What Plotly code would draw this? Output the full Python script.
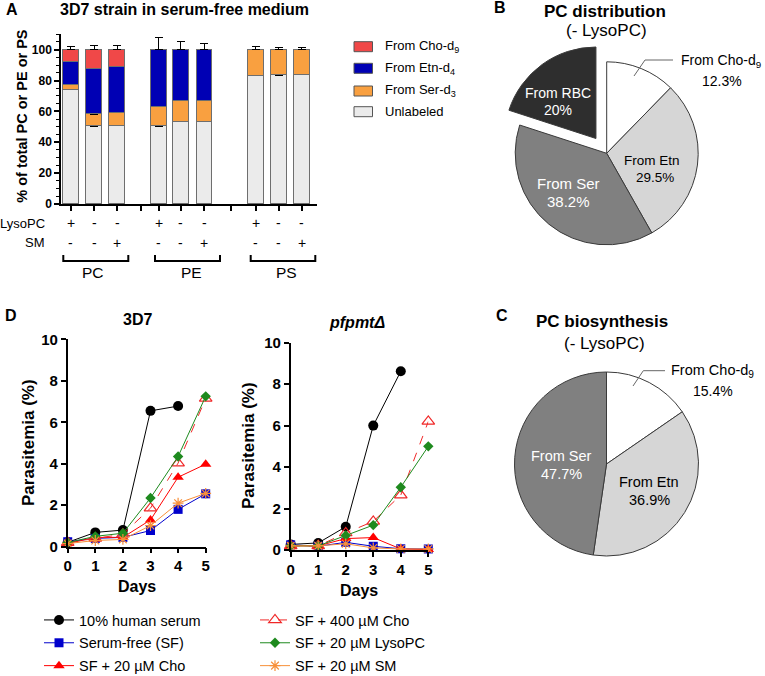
import plotly.graph_objects as go

W, H = 765, 676
def px(x): return x / W
def py(y): return 1 - y / H

FONT = "Liberation Sans, Arial, sans-serif"

# ---------------- Panel A data ----------------
bar_groups = ["PC", "PE", "PS"]
lyso_signs = ["+", "-", "-", "+", "-", "-", "+", "-", "-"]
sm_signs = ["-", "-", "+", "-", "-", "+", "-", "-", "+"]
unlabeled = [74.1, 50.4, 51.0, 50.4, 53.3, 53.3, 83.3, 83.6, 83.8]
from_ser = [3.3, 7.8, 8.0, 12.9, 13.6, 13.9, 16.7, 16.4, 16.2]
from_etn = [14.8, 29.3, 29.8, 36.7, 33.1, 32.8, None, None, None]
from_cho = [7.8, 12.5, 11.2, None, None, None, None, None, None]
err_unl = [1.5, 4.3, 4.4, 7.0, 6.0, 3.9, 2.0, 1.3, 1.5]
err_ser = [2.7, 1.0, 1.0, 1.0, 1.0, 1.0, 2.0, 1.2, 1.6]
err_etn = [2.6, 4.3, 2.8, 7.7, 5.6, 3.9, 0, 0, 0]
err_cho = [2.1, 2.5, 2.5, 0, 0, 0, 0, 0, 0]
seg_names = ["From Cho-d<sub>9</sub>", "From Etn-d<sub>4</sub>", "From Ser-d<sub>3</sub>", "Unlabeled"]
seg_colors = ["#F04848", "#0000B4", "#F9A040", "#EBEBEB"]

# ---------------- Panel B/C data ----------------
pieB_labels = ["From Cho-d9", "From Etn", "From Ser", "From RBC"]
pieB_values = [12.3, 29.5, 38.2, 20.0]
pieC_labels = ["From Cho-d9", "From Etn", "From Ser"]
pieC_values = [15.4, 36.9, 47.7]
pie_colors = ["#FFFFFF", "#D6D6D6", "#808080", "#2E2E2E"]

# ---------------- Panel D data ----------------
days = [0, 1, 2, 3, 4, 5]
conditions = ["10% human serum", "Serum-free (SF)", "SF + 20 µM Cho",
              "SF + 400 µM Cho", "SF + 20 µM LysoPC", "SF + 20 µM SM"]
p3d7 = {
    "10% human serum": [0.21, 0.69, 0.8, 6.55, 6.78, None],
    "Serum-free (SF)": [0.24, 0.4, 0.45, 0.78, 1.8, 2.55],
    "SF + 20 µM Cho": [0.15, 0.45, 0.45, 1.29, 3.35, 3.98],
    "SF + 400 µM Cho": [0.2, 0.4, 0.6, 1.86, 4.03, 7.15],
    "SF + 20 µM LysoPC": [0.2, 0.5, 0.65, 2.35, 4.35, 7.25],
    "SF + 20 µM SM": [0.15, 0.3, 0.35, 1.02, 2.1, 2.57],
}
ppfpmt = {
    "10% human serum": [0.27, 0.34, 1.12, 6.0, 8.62, None],
    "Serum-free (SF)": [0.25, 0.18, 0.37, 0.18, 0.06, 0.05],
    "SF + 20 µM Cho": [0.2, 0.2, 0.55, 0.6, 0.05, 0.02],
    "SF + 400 µM Cho": [0.2, 0.2, 0.82, 1.38, 2.65, 6.2],
    "SF + 20 µM LysoPC": [0.2, 0.2, 0.7, 1.2, 3.03, 5.0],
    "SF + 20 µM SM": [0.2, 0.2, 0.3, 0.1, 0.05, 0.05],
}
cond_style = {
    "10% human serum": dict(color="#000000", symbol="circle", size=10, dash="solid"),
    "Serum-free (SF)": dict(color="#0000CC", symbol="square", size=9, dash="solid"),
    "SF + 20 µM Cho": dict(color="#FF0000", symbol="triangle-up", size=10, dash="solid"),
    "SF + 400 µM Cho": dict(color="#F02828", symbol="triangle-up-open", size=11, dash="dash"),
    "SF + 20 µM LysoPC": dict(color="#1E8A1E", symbol="diamond", size=8, dash="solid"),
    "SF + 20 µM SM": dict(color="#F7903A", symbol="asterisk-open", size=9, dash="solid"),
}

# layout positions (not data)
bar_x = [0, 1, 2, 3.79, 4.74, 5.75, 7.96, 8.95, 9.94]
gap_ticks = [3.02, 6.9]

fig = go.Figure()

# ---------- Panel A bars ----------
stack = [("Unlabeled", unlabeled, err_unl, seg_colors[3]),
         ("Ser", from_ser, err_ser, seg_colors[2]),
         ("Etn", from_etn, err_etn, seg_colors[1]),
         ("Cho", from_cho, err_cho, seg_colors[0])]
for name, vals, err, col in stack:
    fig.add_trace(go.Bar(
        x=bar_x, y=vals, name=name, width=0.68, showlegend=False,
        marker=dict(color=col, line=dict(color="#6E6E6E", width=1)),
        error_y=dict(type="data", symmetric=False, array=err,
                     arrayminus=[0] * len(err), color="black", thickness=1, width=4),
        xaxis="x", yaxis="y", hoverinfo="skip"))

# ---------- Pies ----------
fig.add_trace(go.Pie(
    labels=pieB_labels, values=pieB_values, sort=False, direction="clockwise",
    rotation=0, pull=[0, 0, 0, 0.2], textinfo="none", hoverinfo="skip",
    marker=dict(colors=pie_colors, line=dict(color="#3A3A3A", width=1)),
    domain=dict(x=[px(606.7 - 109.8), px(606.7 + 109.8)],
                y=[py(153.3 + 109.8), py(153.3 - 109.8)]),
    showlegend=False))
fig.add_trace(go.Pie(
    labels=pieC_labels, values=pieC_values, sort=False, direction="clockwise",
    rotation=0, textinfo="none", hoverinfo="skip",
    marker=dict(colors=pie_colors[:3], line=dict(color="#3A3A3A", width=1)),
    domain=dict(x=[px(606.5 - 92), px(606.5 + 92)], y=[py(464 + 92), py(464 - 92)]),
    showlegend=False))

# ---------- Panel D lines ----------
for i, c in enumerate(conditions):
    st = cond_style[c]
    leg = "legend" if i < 3 else "legend2"
    mk = dict(color=st["color"], symbol=st["symbol"], size=st["size"])
    if st["symbol"].endswith("open"):
        mk["line"] = dict(color=st["color"], width=1.2)
    for data, xa, ya, show in [(p3d7, "x2", "y2", True), (ppfpmt, "x3", "y3", False)]:
        fig.add_trace(go.Scatter(
            x=days, y=data[c], mode="lines+markers", name=c,
            line=dict(color=st["color"], width=1, dash=st["dash"]),
            marker=mk, xaxis=xa, yaxis=ya, legend=leg, legendgroup=c,
            showlegend=show, cliponaxis=False, hoverinfo="skip"))

axis_common = dict(showline=True, linecolor="black", linewidth=1.5, ticks="outside",
                   tickcolor="black", tickwidth=1.5, showgrid=False, zeroline=False)

fig.update_layout(
    width=W, height=H, margin=dict(l=0, r=0, t=0, b=0, autoexpand=False),
    paper_bgcolor="white", plot_bgcolor="white",
    font=dict(family=FONT, color="black", size=13),
    barmode="stack", bargap=0,
    xaxis=dict(domain=[px(61), px(316.7)], range=[-0.43, 10.59], anchor="y",
               tickvals=bar_x + gap_ticks, showticklabels=False, ticklen=5, **axis_common),
    yaxis=dict(domain=[py(204), py(33.8)], range=[0, 110.3], anchor="x",
               tickvals=[0, 20, 40, 60, 80, 100], ticklen=5,
               tickfont=dict(size=12, weight="bold", color="black"),
               minor=dict(dtick=5, ticklen=3, tickcolor="black", tickwidth=1, ticks="outside"),
               **axis_common),
    xaxis2=dict(domain=[px(67.7), px(205.7)], range=[0, 5], anchor="y2",
                dtick=1, ticklen=5, tickfont=dict(size=15, weight="bold", color="black"), **axis_common),
    yaxis2=dict(domain=[py(546.7), py(339.3)], range=[0, 10], anchor="x2",
                dtick=2, ticklen=5, tickfont=dict(size=15, weight="bold", color="black"), **axis_common),
    xaxis3=dict(domain=[px(290.7), px(428.3)], range=[0, 5], anchor="y3",
                dtick=1, ticklen=5, tickfont=dict(size=15, weight="bold", color="black"), **axis_common),
    yaxis3=dict(domain=[py(550), py(342.7)], range=[0, 10], anchor="x3",
                dtick=2, ticklen=5, tickfont=dict(size=15, weight="bold", color="black"), **axis_common),
    legend=dict(x=px(39), y=py(604), xanchor="left", yanchor="top",
                font=dict(size=14.5, color="black"), tracegroupgap=1, bgcolor="rgba(0,0,0,0)"),
    legend2=dict(x=px(255), y=py(604), xanchor="left", yanchor="top",
                 font=dict(size=14.5, color="black"), tracegroupgap=1, bgcolor="rgba(0,0,0,0)"),
)

ann = []
def T(x, y, text, size=13, color="black", xanchor="center", angle=0):
    ann.append(dict(x=px(x), y=py(y), xref="paper", yref="paper", text=text,
                    showarrow=False, xanchor=xanchor, yanchor="middle",
                    font=dict(size=size, color=color, family=FONT), textangle=angle))

# Panel letters and titles
T(12, 9, "<b>A</b>", 16)
T(184, 9, "<b>3D7 strain in serum-free medium</b>", 16)
T(21.7, 116, "<b>% of total PC or PE or PS</b>", 14.5, angle=-90)
T(500, 8, "<b>B</b>", 16)
T(605, 11, "<b>PC distribution</b>", 17)
T(606, 30, "(- LysoPC)", 17)
T(502, 316, "<b>C</b>", 16)
T(602, 321, "<b>PC biosynthesis</b>", 17)
T(604, 343, "(- LysoPC)", 17)
T(11, 316, "<b>D</b>", 16)
T(137, 319, "<b>3D7</b>", 16)
T(357, 323, "<b><i>pfpmtΔ</i></b>", 16)
T(28, 443, "<b>Parasitemia (%)</b>", 17, angle=-90)
T(248, 446, "<b>Parasitemia (%)</b>", 17, angle=-90)
T(137, 586, "<b>Days</b>", 16)
T(359, 590, "<b>Days</b>", 16)

# Panel A row labels and signs
T(47, 223.3, "LysoPC", 13, xanchor="right")
T(47, 242.7, "SM", 13, xanchor="right")
for xi, ls, ss in zip(bar_x, lyso_signs, sm_signs):
    ann.append(dict(x=xi, y=py(223.3), xref="x", yref="paper", text=ls, showarrow=False,
                    font=dict(size=14, family=FONT, color="black"), yanchor="middle"))
    ann.append(dict(x=xi, y=py(242.7), xref="x", yref="paper", text=ss, showarrow=False,
                    font=dict(size=14, family=FONT, color="black"), yanchor="middle"))
for g, xc in zip(bar_groups, [93.3, 191, 286]):
    T(xc, 272.5, g, 15.5)

# Panel A legend
leg_rows = [46.7, 68.3, 91, 111.7]
shapes = []
for nm, col, yc in zip(seg_names, seg_colors, leg_rows):
    shapes.append(dict(type="rect", xref="paper", yref="paper", x0=px(354), x1=px(372.5),
                       y0=py(yc + 5), y1=py(yc - 5), fillcolor=col,
                       line=dict(color="#555555", width=1)))
    T(383, yc, nm, 13, xanchor="left")

# Brackets
for x0, x1 in [(63.3, 128.3), (155, 220), (250.7, 315.3)]:
    shapes.append(dict(type="path", xref="paper", yref="paper",
                       path=f"M {px(x0)},{py(255)} L {px(x0)},{py(261)} L {px(x1)},{py(261)} L {px(x1)},{py(255)}",
                       line=dict(color="black", width=2)))

# Pie B labels
T(558, 93, "From RBC", 14, "white")
T(558, 110, "20%", 14, "white")
T(568, 183, "From Ser", 15, "white")
T(568, 201, "38.2%", 15, "white")
T(652, 160, "From Etn", 13.5, "black")
T(655, 177, "29.5%", 13.5, "black")
T(721, 61, "From Cho-d<sub>9</sub>", 14)
T(722, 81, "12.3%", 14)
shapes.append(dict(type="path", xref="paper", yref="paper",
                   path=f"M {px(634)},{py(76)} L {px(645)},{py(60)} L {px(673)},{py(60)}",
                   line=dict(color="#666666", width=1)))
# Pie C labels
T(561, 456, "From Ser", 14.5, "white")
T(561, 474, "47.7%", 14.5, "white")
T(649, 482, "From Etn", 14.5, "black")
T(649, 500, "36.9%", 14.5, "black")
T(712, 371, "From Cho-d<sub>9</sub>", 14.5)
T(712.5, 391, "15.4%", 14)
shapes.append(dict(type="path", xref="paper", yref="paper",
                   path=f"M {px(633)},{py(386)} L {px(643.3)},{py(370.7)} L {px(665)},{py(370.7)}",
                   line=dict(color="#666666", width=1)))

fig.update_layout(annotations=ann, shapes=shapes)
fig.write_html("out.html", config={"displayModeBar": False},
               post_script="document.body.style.margin='0px';")
